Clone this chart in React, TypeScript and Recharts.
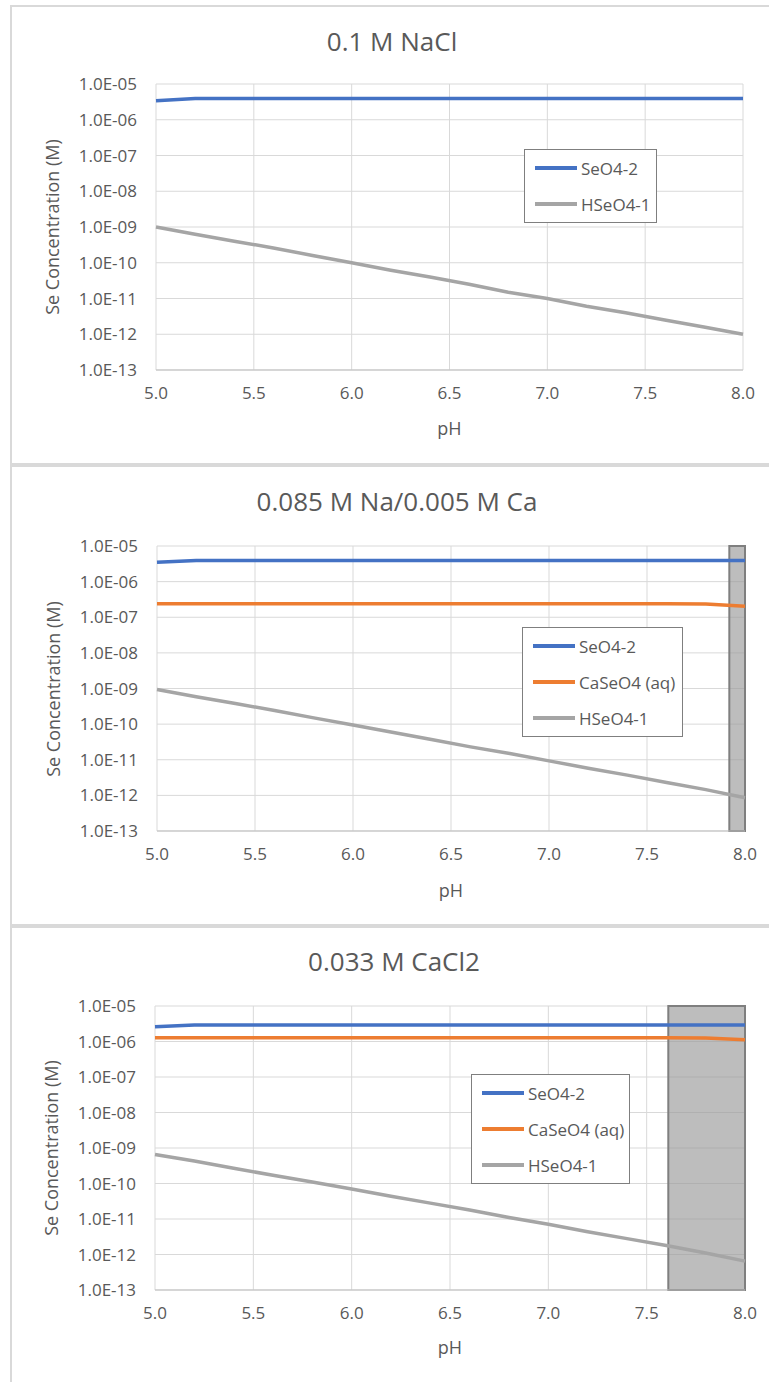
import { LineChart, Line, XAxis, YAxis, CartesianGrid, Legend, ReferenceArea } from 'recharts';

const PH = [5.0, 5.2, 5.4, 5.6, 5.8, 6.0, 6.2, 6.4, 6.6, 6.8, 7.0, 7.2, 7.4, 7.6, 7.8, 8.0];

// 0.1 M NaCl
const NACL_SEO4 = [3.4e-6, 3.9e-6, 3.9e-6, 3.9e-6, 3.9e-6, 3.9e-6, 3.9e-6, 3.9e-6, 3.9e-6, 3.9e-6, 3.9e-6, 3.9e-6, 3.9e-6, 3.9e-6, 3.9e-6, 3.9e-6];
const NACL_HSEO4 = [1.0e-9, 6.3e-10, 4.0e-10, 2.6e-10, 1.6e-10, 1.0e-10, 6.2e-11, 4.0e-11, 2.5e-11, 1.5e-11, 1.0e-11, 6.1e-12, 4.0e-12, 2.5e-12, 1.6e-12, 1.0e-12];

// 0.085 M Na / 0.005 M Ca
const MIX_SEO4 = [3.5e-6, 3.9e-6, 3.9e-6, 3.9e-6, 3.9e-6, 3.9e-6, 3.9e-6, 3.9e-6, 3.9e-6, 3.9e-6, 3.9e-6, 3.9e-6, 3.9e-6, 3.9e-6, 3.9e-6, 3.9e-6];
const MIX_CASEO4 = [2.4e-7, 2.4e-7, 2.4e-7, 2.4e-7, 2.4e-7, 2.4e-7, 2.4e-7, 2.4e-7, 2.4e-7, 2.4e-7, 2.4e-7, 2.4e-7, 2.4e-7, 2.4e-7, 2.35e-7, 2.05e-7];
const MIX_HSEO4 = [9.4e-10, 5.9e-10, 3.8e-10, 2.4e-10, 1.5e-10, 9.4e-11, 5.9e-11, 3.7e-11, 2.3e-11, 1.5e-11, 9.3e-12, 5.8e-12, 3.7e-12, 2.3e-12, 1.45e-12, 8.6e-13];

// 0.033 M CaCl2
const CACL2_SEO4 = [2.6e-6, 2.9e-6, 2.9e-6, 2.9e-6, 2.9e-6, 2.9e-6, 2.9e-6, 2.9e-6, 2.9e-6, 2.9e-6, 2.9e-6, 2.9e-6, 2.9e-6, 2.9e-6, 2.9e-6, 2.9e-6];
const CACL2_CASEO4 = [1.28e-6, 1.28e-6, 1.28e-6, 1.28e-6, 1.28e-6, 1.28e-6, 1.28e-6, 1.28e-6, 1.28e-6, 1.28e-6, 1.28e-6, 1.28e-6, 1.28e-6, 1.28e-6, 1.25e-6, 1.12e-6];
const CACL2_HSEO4 = [6.6e-10, 4.3e-10, 2.7e-10, 1.7e-10, 1.1e-10, 7.0e-11, 4.4e-11, 2.8e-11, 1.8e-11, 1.1e-11, 7.1e-12, 4.4e-12, 2.8e-12, 1.8e-12, 1.1e-12, 6.5e-13];

const X_TICKS = [5.0, 5.5, 6.0, 6.5, 7.0, 7.5, 8.0];
const Y_TICKS = [1e-5, 1e-6, 1e-7, 1e-8, 1e-9, 1e-10, 1e-11, 1e-12, 1e-13];

const TITLES = ['0.1 M NaCl', '0.085 M Na/0.005 M Ca', '0.033 M CaCl2'];
const SERIES_ORDER = ['SeO4-2', 'CaSeO4 (aq)', 'HSeO4-1'];
// shaded pH ranges (none on the first chart)
const BANDS: Array<[number, number] | null> = [null, [7.92, 8.0], [7.61, 8.0]];

const BLUE = '#4472c4';
const ORANGE = '#ed7d31';
const GRAY = '#a5a5a5';
const TEXT = '#595959';
const FONT = '"Open Sans", sans-serif';

const Y_W = 80;
const X_H = 40;

function rows(seo4: number[], caseo4: number[] | null, hseo4: number[]) {
  return PH.map((ph, i) => ({
    pH: ph,
    seo4: seo4[i],
    caseo4: caseo4 ? caseo4[i] : undefined,
    hseo4: hseo4[i],
  }));
}

const DATASETS = [
  rows(NACL_SEO4, null, NACL_HSEO4),
  rows(MIX_SEO4, MIX_CASEO4, MIX_HSEO4),
  rows(CACL2_SEO4, CACL2_CASEO4, CACL2_HSEO4),
];

// page-pixel layout for each panel
const LAYOUT = [
  { top: 5, h: 460, plot: { l: 156, r: 743, t: 84, b: 370 }, titleX: 392, titleY: 41, phY: 428, yLabX: 52, leg: { l: 524, t: 149, w: 133 } },
  { top: 465, h: 461, plot: { l: 157, r: 745, t: 546, b: 831 }, titleX: 397, titleY: 501, phY: 890, yLabX: 53, leg: { l: 522, t: 627, w: 161 } },
  { top: 926, h: 460, plot: { l: 155, r: 745, t: 1006, b: 1290 }, titleX: 394, titleY: 961, phY: 1347, yLabX: 51, leg: { l: 471, t: 1074, w: 159 } },
];

function fmtExp(v: number) {
  const [m, e] = v.toExponential(1).split('e');
  const n = parseInt(e, 10);
  return `${m}E${n < 0 ? '-' : '+'}${String(Math.abs(n)).padStart(2, '0')}`;
}

const LegendBox = ({ payload }: any) => {
  const items = [...(payload || [])].sort(
    (a: any, b: any) => SERIES_ORDER.indexOf(a.value) - SERIES_ORDER.indexOf(b.value)
  );
  return (
    <div style={{ border: '1px solid #7f7f7f', background: '#fff', boxSizing: 'border-box', paddingLeft: 10, fontFamily: FONT, fontSize: 17, color: TEXT }}>
      {items.map((p: any) => (
        <div key={p.value} style={{ height: 36, display: 'flex', alignItems: 'center', whiteSpace: 'nowrap' }}>
          <span style={{ display: 'inline-block', width: 42, height: 4, background: p.color, marginRight: 4 }} />
          <span>{p.value}</span>
        </div>
      ))}
    </div>
  );
};

function Panel({ idx }: { idx: number }) {
  const L = LAYOUT[idx];
  const data = DATASETS[idx];
  const band = BANDS[idx];
  const hasCa = idx > 0;
  const margin = {
    top: L.plot.t - L.top,
    left: L.plot.l - Y_W,
    right: 769 - L.plot.r,
    bottom: L.h - (L.plot.b - L.top) - X_H,
  };
  const textBase = { position: 'absolute' as const, fontFamily: FONT, color: TEXT, whiteSpace: 'nowrap' as const };

  return (
    <>
      <div style={{ position: 'absolute', left: 10, top: L.top, width: 800, height: L.h, border: '2px solid #d9d9d9', boxSizing: 'border-box', background: '#fff' }} />
      <div style={{ position: 'absolute', left: 0, top: L.top, width: 769, height: L.h }}>
        <LineChart width={769} height={L.h} data={data} margin={margin}>
          <CartesianGrid stroke="#d9d9d9" strokeWidth={1} />
          <XAxis
            dataKey="pH"
            type="number"
            domain={[5, 8]}
            ticks={X_TICKS}
            tickFormatter={(v: number) => v.toFixed(1)}
            height={X_H}
            tickLine={false}
            tickSize={0}
            tickMargin={17}
            axisLine={{ stroke: '#bfbfbf' }}
            tick={{ fill: TEXT, fontSize: 17, fontFamily: FONT }}
          />
          <YAxis
            type="number"
            scale="log"
            domain={[1e-13, 1e-5]}
            ticks={Y_TICKS}
            tickFormatter={fmtExp}
            width={Y_W}
            tickLine={false}
            tickSize={0}
            tickMargin={19}
            axisLine={false}
            interval={0}
            tick={{ fill: TEXT, fontSize: 17, fontFamily: FONT }}
          />
          <Line dataKey="seo4" name="SeO4-2" stroke={BLUE} strokeWidth={3.5} dot={false} isAnimationActive={false} />
          {hasCa && (
            <Line dataKey="caseo4" name="CaSeO4 (aq)" stroke={ORANGE} strokeWidth={3.5} dot={false} isAnimationActive={false} />
          )}
          <Line dataKey="hseo4" name="HSeO4-1" stroke={GRAY} strokeWidth={3.5} dot={false} isAnimationActive={false} />
          {band && (
            <ReferenceArea x1={band[0]} x2={band[1]} fill="#999999" fillOpacity={0.65} stroke="#7f7f7f" strokeWidth={2} strokeOpacity={1} ifOverflow="visible" />
          )}
          <Legend
            layout="vertical"
            align="center"
            verticalAlign="middle"
            content={<LegendBox />}
            wrapperStyle={{ left: L.leg.l, top: L.leg.t - L.top, width: L.leg.w }}
          />
        </LineChart>
      </div>
      <div style={{ ...textBase, left: L.titleX, top: L.titleY, transform: 'translate(-50%, -50%)', fontSize: 26 }}>
        {TITLES[idx]}
      </div>
      <div style={{ ...textBase, left: L.yLabX, top: (L.plot.t + L.plot.b) / 2, transform: 'translate(-50%, -50%) rotate(-90deg)', fontSize: 18 }}>
        Se Concentration (M)
      </div>
      <div style={{ ...textBase, left: (L.plot.l + L.plot.r) / 2, top: L.phY, transform: 'translate(-50%, -50%)', fontSize: 18 }}>
        pH
      </div>
    </>
  );
}

export default function App() {
  return (
    <div style={{ position: 'absolute', left: 0, top: 0, width: 769, height: 1382, overflow: 'hidden', background: '#fff' }}>
      <Panel idx={0} />
      <Panel idx={1} />
      <Panel idx={2} />
    </div>
  );
}
